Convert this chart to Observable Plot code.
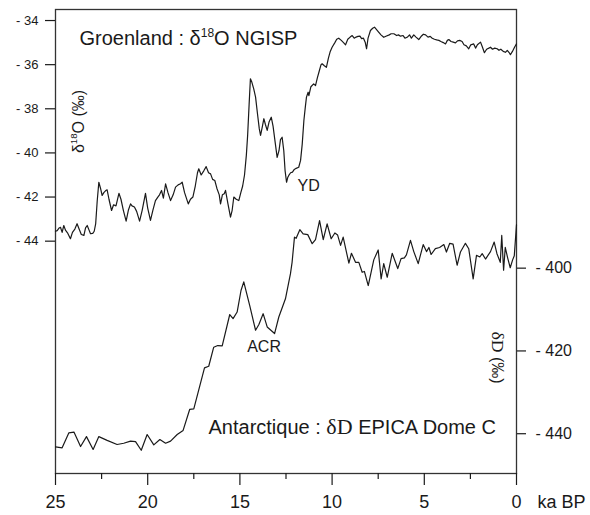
<!DOCTYPE html>
<html><head><meta charset="utf-8">
<script src="https://cdn.jsdelivr.net/npm/d3@7"></script>
<script src="https://cdn.jsdelivr.net/npm/@observablehq/plot@0.6"></script>
<style>
html,body{margin:0;padding:0;background:#fff;}
#chart{width:590px;height:515px;}
</style></head><body><div id="chart"></div>
<script>
// Greenland NGRIP δ18O (‰) vs age (ka BP)
const greenAge = [25.0,24.91,24.8,24.73,24.64,24.55,24.46,24.35,24.19,24.08,23.95,23.83,23.72,23.6,23.46,23.37,23.28,23.18,23.1,22.98,22.9,22.82,22.74,22.65,22.56,22.47,22.38,22.29,22.2,22.1,21.96,21.85,21.72,21.56,21.45,21.32,21.17,21.05,20.93,20.85,20.72,20.6,20.44,20.3,20.12,20.0,19.85,19.72,19.58,19.45,19.36,19.25,19.15,19.03,18.9,18.76,18.62,18.49,18.35,18.22,18.13,18.0,17.8,17.68,17.55,17.42,17.3,17.23,17.1,16.95,16.83,16.7,16.59,16.48,16.36,16.25,16.12,16.05,15.95,15.85,15.78,15.65,15.51,15.42,15.33,15.2,15.06,14.95,14.85,14.75,14.65,14.58,14.5,14.43,14.35,14.25,14.15,14.05,13.95,13.88,13.78,13.7,13.62,13.52,13.42,13.3,13.2,13.1,12.98,12.88,12.8,12.71,12.62,12.55,12.47,12.4,12.35,12.25,12.15,12.05,11.95,11.81,11.71,11.62,11.53,11.45,11.39,11.3,11.26,11.15,11.0,10.9,10.8,10.7,10.6,10.54,10.42,10.31,10.2,10.1,10.0,9.85,9.75,9.64,9.5,9.38,9.27,9.15,9.02,8.91,8.8,8.7,8.6,8.49,8.4,8.3,8.2,8.13,8.05,7.92,7.8,7.7,7.6,7.5,7.35,7.2,7.05,6.9,6.8,6.65,6.5,6.4,6.29,6.15,6.05,5.93,5.8,5.7,5.57,5.45,5.3,5.15,5.05,4.93,4.8,4.68,4.57,4.45,4.33,4.21,4.1,3.97,3.85,3.75,3.67,3.55,3.43,3.31,3.2,3.08,2.95,2.85,2.72,2.59,2.48,2.32,2.22,2.12,1.95,1.85,1.74,1.62,1.5,1.41,1.3,1.18,1.05,0.95,0.85,0.72,0.6,0.5,0.4,0.33,0.22,0.1,0.0];
const greenD18O = [-43.55,-43.52,-43.4,-43.37,-43.6,-43.29,-43.5,-43.62,-43.89,-43.6,-43.45,-43.21,-43.45,-43.7,-43.74,-43.4,-43.29,-43.5,-43.66,-43.65,-43.55,-43.2,-42.2,-41.33,-41.6,-41.93,-41.8,-41.72,-41.67,-42.1,-42.61,-42.35,-42.4,-41.83,-42.1,-42.6,-43.09,-42.6,-42.31,-42.4,-42.45,-42.65,-43.09,-42.6,-41.83,-42.5,-43.06,-42.6,-42.16,-42.0,-41.9,-41.7,-42.05,-41.4,-41.8,-42.16,-41.9,-41.55,-41.45,-41.4,-41.33,-41.8,-42.31,-42.1,-42.0,-41.5,-40.9,-40.72,-41.0,-40.8,-40.62,-40.9,-40.95,-41.2,-41.25,-41.6,-41.9,-42.31,-41.9,-41.85,-41.7,-42.3,-42.91,-42.6,-42.0,-42.1,-42.16,-41.8,-41.5,-41.0,-40.1,-39.2,-37.8,-36.64,-36.8,-37.1,-37.47,-38.2,-38.9,-39.21,-38.8,-38.45,-38.7,-38.98,-38.6,-38.38,-38.8,-39.44,-40.2,-39.9,-39.4,-39.29,-39.9,-40.8,-41.33,-41.1,-41.02,-40.9,-40.87,-40.75,-40.7,-40.65,-40.34,-39.6,-38.53,-37.9,-37.47,-37.25,-37.4,-37.0,-36.87,-36.95,-36.6,-36.3,-36.0,-35.96,-36.05,-36.12,-35.7,-35.4,-35.21,-35.0,-34.85,-34.8,-34.9,-35.0,-35.1,-34.85,-34.75,-34.68,-34.8,-34.75,-34.72,-34.71,-34.82,-34.8,-35.0,-35.28,-34.8,-34.45,-34.35,-34.3,-34.4,-34.5,-34.65,-34.76,-34.7,-34.65,-34.6,-34.6,-34.68,-34.65,-34.71,-34.68,-34.8,-34.76,-34.65,-34.8,-34.65,-34.75,-34.86,-34.7,-34.62,-34.65,-34.75,-34.72,-34.8,-34.85,-34.88,-34.9,-34.95,-35.0,-35.06,-34.9,-34.86,-34.95,-34.98,-35.01,-34.92,-34.9,-34.95,-35.1,-35.15,-35.28,-35.1,-35.06,-35.25,-35.1,-34.98,-35.2,-35.46,-35.3,-35.25,-35.21,-35.3,-35.25,-35.28,-35.35,-35.3,-35.4,-35.44,-35.35,-35.45,-35.55,-35.4,-35.2,-35.06];

// Antarctica EPICA Dome C δD (‰) vs age (ka BP)
const antAge = [25.0,24.64,24.28,24.0,23.64,23.32,22.96,22.65,22.2,21.66,21.3,20.93,20.66,20.35,20.03,19.67,19.34,19.03,18.76,18.4,18.08,17.72,17.5,16.92,16.69,16.42,16.2,15.96,15.55,15.37,15.15,14.94,14.79,14.47,14.15,13.97,13.74,13.52,13.12,12.89,12.53,12.26,12.17,12.04,11.95,11.75,11.57,11.32,11.08,10.9,10.68,10.48,10.27,10.05,9.85,9.7,9.54,9.4,9.09,8.95,8.73,8.55,8.37,8.25,8.04,7.74,7.5,7.34,7.2,7.01,6.74,6.44,6.26,6.08,5.97,5.75,5.57,5.33,5.06,4.88,4.75,4.63,4.4,4.17,3.94,3.8,3.62,3.44,3.22,3.04,2.77,2.59,2.35,2.17,1.99,1.86,1.68,1.41,1.21,1.06,0.88,0.8,0.7,0.61,0.48,0.34,0.21,0.12,0.03,0.0];
const antDD = [-443.2,-443.4,-439.8,-439.6,-443.1,-440.7,-443.8,-440.7,-441.6,-442.6,-442.3,-441.8,-441.9,-444.0,-440.2,-442.7,-441.4,-442.3,-441.8,-440.2,-439.2,-434.1,-434.0,-424.1,-423.7,-419.1,-418.7,-418.8,-411.2,-412.2,-410.6,-405.4,-403.3,-409.0,-415.0,-413.6,-411.0,-414.2,-415.8,-411.8,-407.4,-401.4,-398.6,-392.5,-392.8,-390.7,-391.7,-391.9,-394.1,-393.1,-388.5,-393.1,-389.3,-392.9,-391.5,-392.0,-394.5,-392.5,-398.8,-396.4,-398.6,-398.6,-401.0,-400.8,-404.2,-398.0,-395.6,-402.6,-398.9,-402.2,-396.4,-400.1,-397.7,-397.5,-396.8,-393.3,-396.0,-398.9,-394.3,-396.0,-395.0,-396.7,-395.3,-395.0,-394.3,-396.1,-394.0,-394.2,-399.3,-396.1,-394.0,-395.3,-402.6,-396.9,-397.3,-396.5,-397.8,-396.0,-393.7,-396.5,-398.6,-392.1,-400.5,-395.0,-397.5,-399.9,-398.0,-397.0,-391.4,-389.5];

const xTicks = [25, 20, 15, 10, 5, 0];
const xMinorTicks = [22.5, 17.5, 12.5, 7.5, 2.5];
const d18OTicks = [-34, -36, -38, -40, -42, -44];
const dDTicks = [-400, -420, -440];

const green = greenAge.map((a, i) => ({age: a, v: greenD18O[i]}));
const ant = antAge.map((a, i) => ({age: a, v: antDD[i]}));

// twin axis: δD placed onto the δ18O y scale
const dD2y = d3.scaleLinear().domain([-400, -440]).range([-45.223, -52.727]);

const font = "'Liberation Sans', Arial, Helvetica, sans-serif";
const ink = "#1a1a1a";
const lbl = {text: d => d, lineAnchor: "middle", fill: ink};

const plot = Plot.plot({
  width: 590, height: 515,
  marginLeft: 55, marginRight: 74, marginTop: 9, marginBottom: 42,
  style: {fontFamily: font, color: ink, background: "#fff", overflow: "visible"},
  x: {domain: [25, 0]},
  y: {domain: [-54.53, -33.5]},
  marks: [
    Plot.frame({stroke: "#333", strokeWidth: 1.3}),
    Plot.axisX({ticks: xTicks, tickSize: 12, tickPadding: 10, fontSize: 18, tickFormat: d => String(d), label: null, strokeWidth: 1.2}),
    Plot.axisX({ticks: xMinorTicks, tickSize: 6, tickFormat: () => "", label: null, strokeWidth: 1.2}),
    Plot.axisY({anchor: "left", ticks: d18OTicks, tickSize: 10, tickPadding: 7, fontSize: 13, tickFormat: d => "- " + (-d), label: null, strokeWidth: 1.2}),
    Plot.axisY({anchor: "right", ticks: dDTicks.map(dD2y), tickSize: 9, tickPadding: 10, fontSize: 16, tickFormat: v => "- " + Math.round(-dD2y.invert(v)), label: null, strokeWidth: 1.2}),
    Plot.line(green, {x: "age", y: "v", stroke: ink, strokeWidth: 1.2}),
    Plot.line(ant, {x: "age", y: d => dD2y(d.v), stroke: ink, strokeWidth: 1.2}),
    Plot.text(["Groenland : δ18O NGISP"], {...lbl, frameAnchor: "top-left", dx: 24, dy: 29, textAnchor: "start", fontSize: 20}),
    Plot.text(["Antarctique : δD EPICA Dome C"], {...lbl, frameAnchor: "bottom-left", dx: 153, dy: -46, textAnchor: "start", fontSize: 20}),
    Plot.text(["YD"], {...lbl, frameAnchor: "top-left", dx: 242, dy: 176, textAnchor: "start", fontSize: 16}),
    Plot.text(["ACR"], {...lbl, frameAnchor: "top-left", dx: 191.7, dy: 337.7, textAnchor: "start", fontSize: 16}),
    Plot.text(["δ18O (‰)"], {...lbl, frameAnchor: "top-left", dx: 23, dy: 112, rotate: -90, textAnchor: "middle", fontSize: 16}),
    Plot.text(["δD (‰)"], {...lbl, frameAnchor: "top-right", dx: -19, dy: 348, rotate: 90, textAnchor: "middle", fontSize: 16}),
    Plot.text(["ka BP"], {...lbl, frameAnchor: "bottom-right", dx: 21, dy: 29, textAnchor: "start", fontSize: 18})
  ]
});
document.getElementById("chart").append(plot);

// rich text: superscript isotope numbers and serif δD
d3.select(plot).selectAll("text").each(function() {
  const s = this.textContent;
  if (!s.includes("δ")) return;
  const fs = parseFloat(getComputedStyle(this).fontSize);
  const el = d3.select(this);
  el.attr("xml:space", "preserve").style("white-space", "pre");
  el.text(null);
  s.split(/(δ18O|δD)/).forEach(part => {
    if (!part) return;
    if (part === "δ18O") {
      el.append("tspan").text("δ");
      el.append("tspan").text("18").attr("font-size", (fs * 0.6).toFixed(1)).attr("dy", (-fs * 0.42).toFixed(1));
      el.append("tspan").text("O").attr("dy", (fs * 0.42).toFixed(1));
    } else if (part === "δD") {
      el.append("tspan").text("δD").attr("font-family", "'Liberation Serif', 'Times New Roman', serif").attr("font-size", (fs * 1.1).toFixed(1));
    } else {
      el.append("tspan").text(part);
    }
  });
});
</script></body></html>
